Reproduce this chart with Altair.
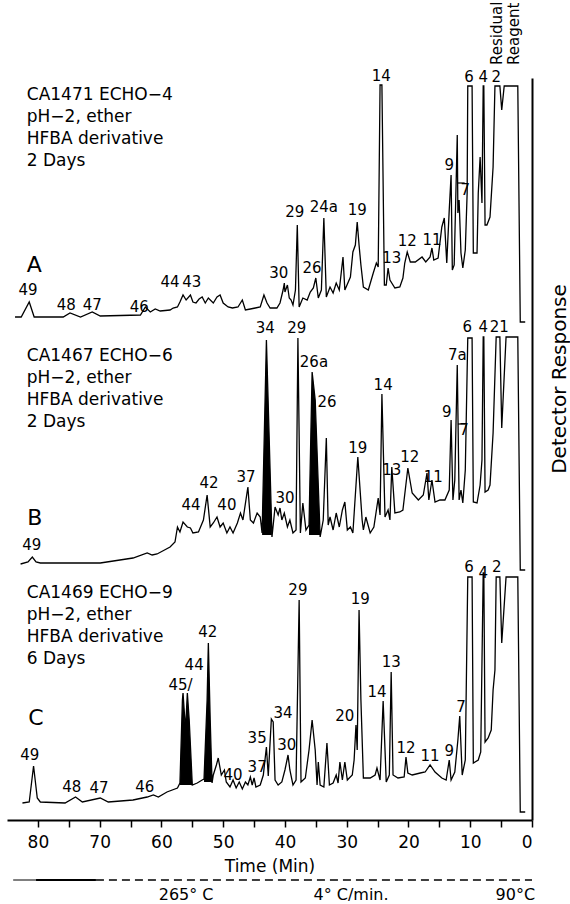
import altair as alt
import pandas as pd

FONT = "DejaVu Sans"

# ---------------- data (time in min, detector response in arbitrary units) ----------------
A_POINTS = [
    (83.7, 8), (82.7, 8), (81.4, 23), (80.6, 8), (80.1, 8), (75.9, 8), (74.8, 12), (73.1, 8),
    (71.2, 13), (69.9, 9), (63.4, 10), (62.6, 18), (61.8, 13), (61.0, 16), (60.2, 14), (58.6, 15),
    (58.1, 17), (57.4, 18), (57.0, 23), (56.5, 30), (56.0, 25), (55.3, 30), (54.9, 23), (54.4, 22),
    (53.9, 26), (53.4, 28), (52.9, 22), (52.4, 27), (51.6, 22), (51.0, 28), (50.5, 30), (50.0, 22),
    (49.2, 18), (48.5, 17), (47.6, 18), (46.9, 25), (46.4, 15), (45.6, 16), (44.8, 17), (44.0, 18),
    (43.4, 30), (42.9, 22), (42.4, 17), (41.3, 17), (40.8, 22), (40.3, 35), (40.1, 42), (40.0, 33),
    (39.6, 40), (39.3, 27), (39.0, 25), (38.7, 20), (38.3, 35), (38.0, 100), (37.7, 18), (37.1, 27),
    (36.4, 25), (35.9, 33), (35.4, 37), (35.0, 47), (34.6, 27), (34.1, 35), (33.7, 107), (33.3, 28),
    (32.7, 38), (32.2, 32), (31.7, 42), (31.2, 35), (30.6, 68), (30.3, 35), (29.4, 48), (29.0, 73),
    (28.6, 80), (28.3, 103), (28.0, 80), (27.7, 60), (27.3, 38), (26.5, 35), (25.7, 52), (25.2, 62),
    (24.9, 58), (24.6, 240), (24.3, 240), (23.9, 40), (23.6, 40), (23.3, 57), (23.0, 45), (22.2, 37),
    (21.4, 38), (20.9, 47), (20.6, 62), (20.2, 73), (19.7, 63), (18.9, 63), (17.8, 68), (17.2, 63),
    (16.5, 68), (16.2, 77), (15.9, 65), (15.2, 67), (14.6, 98), (14.2, 107), (13.8, 62), (13.4, 115),
    (13.1, 150), (12.9, 55), (12.6, 60), (12.3, 138), (12.1, 190), (12.0, 112), (11.8, 125), (11.5, 72),
    (11.2, 57), (10.8, 75), (10.5, 132), (10.4, 239), (9.7, 239), (9.5, 72), (8.9, 72), (8.7, 132),
    (8.4, 168), (8.1, 122), (7.9, 239), (7.8, 239), (7.6, 100), (7.3, 100), (6.8, 108), (6.3, 158),
    (6.0, 239), (5.2, 239), (4.9, 215), (4.5, 239), (2.3, 239), (1.9, 3), (1.1, 3),
]

B_POINTS = [
    (82.8, 6), (81.6, 8), (80.9, 13), (80.3, 8), (79.6, 7), (69.9, 7), (64.6, 12), (62.3, 17),
    (61.5, 15), (60.7, 16), (58.6, 23), (57.8, 28), (57.4, 43), (57.0, 38), (56.5, 48), (55.8, 43),
    (55.3, 42), (54.9, 37), (54.0, 38), (53.2, 50), (52.6, 75), (52.1, 43), (51.6, 47), (51.0, 53),
    (50.5, 43), (50.0, 47), (49.4, 37), (48.9, 43), (48.4, 37), (47.7, 47), (47.2, 57), (46.8, 50),
    (46.0, 83), (45.6, 50), (45.1, 47), (44.5, 57), (44.0, 53), (43.7, 37), (43.0, 230), (42.1, 33),
    (41.6, 63), (41.1, 55), (40.8, 62), (40.5, 50), (40.1, 57), (39.6, 43), (39.2, 50), (38.7, 37),
    (38.2, 40), (37.9, 232), (37.5, 37), (37.1, 67), (36.6, 40), (36.1, 45), (35.6, 198), (35.1, 170),
    (34.3, 33), (33.8, 50), (33.3, 132), (33.0, 45), (32.7, 53), (32.2, 40), (31.7, 57), (31.2, 43),
    (30.7, 60), (30.3, 68), (29.9, 40), (29.4, 43), (29.0, 37), (28.2, 113), (27.5, 50), (27.3, 40),
    (26.9, 53), (26.2, 37), (25.6, 43), (24.9, 72), (24.6, 55), (24.3, 176), (23.8, 53), (23.3, 60),
    (23.0, 50), (22.7, 103), (22.2, 57), (21.4, 58), (20.9, 60), (20.1, 102), (19.4, 77), (18.4, 70),
    (17.6, 75), (17.0, 97), (16.7, 70), (16.2, 90), (15.7, 68), (14.9, 70), (14.1, 70), (13.4, 80),
    (13.1, 150), (12.8, 70), (12.5, 90), (12.1, 205), (11.8, 70), (11.5, 80), (11.2, 67), (10.8, 100),
    (10.4, 232), (9.7, 232), (9.5, 68), (8.9, 67), (8.4, 85), (8.1, 110), (7.9, 233), (7.8, 233),
    (7.6, 78), (7.1, 80), (6.8, 85), (6.3, 137), (5.8, 233), (5.2, 233), (4.9, 142), (4.2, 233),
    (2.3, 233), (1.9, 0), (1.1, 0),
]

C_POINTS = [
    (82.5, 17), (81.4, 18), (80.7, 54), (80.1, 22), (79.6, 18), (75.6, 17), (73.9, 23), (72.8, 18),
    (69.9, 22), (68.6, 18), (64.6, 20), (62.3, 23), (61.3, 25), (60.5, 23), (59.1, 28), (57.4, 32),
    (57.0, 37), (56.6, 120), (56.5, 127), (56.1, 90), (55.8, 127), (55.5, 100), (55.0, 35), (54.2, 37),
    (53.4, 40), (53.1, 41), (52.6, 120), (52.4, 177), (52.1, 100), (51.8, 37), (51.6, 45), (51.1, 55),
    (50.8, 62), (50.3, 45), (49.8, 50), (49.5, 38), (48.9, 33), (48.4, 40), (47.9, 32), (47.4, 38),
    (46.9, 31), (46.4, 38), (46.0, 35), (45.6, 43), (45.3, 35), (45.0, 42), (44.7, 33), (44.0, 35),
    (43.5, 45), (43.0, 73), (42.7, 44), (42.2, 101), (41.9, 98), (41.6, 40), (41.1, 35), (40.5, 38),
    (40.0, 50), (39.5, 65), (39.2, 50), (38.7, 35), (38.2, 40), (37.7, 220), (37.4, 38), (36.7, 42),
    (36.1, 70), (35.6, 100), (35.1, 70), (34.8, 35), (34.6, 58), (34.3, 35), (33.7, 33), (33.2, 77),
    (32.8, 35), (32.2, 37), (31.7, 45), (31.4, 37), (31.1, 58), (30.7, 40), (30.3, 58), (29.9, 40),
    (29.1, 45), (28.8, 60), (28.5, 95), (28.3, 70), (28.0, 210), (27.7, 120), (27.3, 42), (26.2, 42),
    (25.4, 45), (25.1, 52), (24.6, 40), (24.1, 119), (23.6, 38), (23.1, 45), (22.8, 148), (22.5, 45),
    (21.7, 42), (20.7, 43), (20.4, 63), (20.1, 47), (19.4, 45), (18.1, 47), (17.3, 48), (16.5, 55),
    (15.7, 48), (14.6, 42), (13.9, 40), (13.4, 60), (13.1, 40), (12.5, 48), (12.0, 80), (11.7, 104),
    (11.3, 45), (10.8, 60), (10.4, 243), (9.7, 243), (9.5, 57), (8.7, 60), (8.3, 68), (7.9, 247),
    (7.8, 247), (7.6, 78), (7.1, 82), (6.6, 90), (6.3, 130), (6.0, 150), (5.8, 243), (5.2, 243),
    (4.9, 177), (4.2, 243), (2.3, 243), (1.9, 8), (1.1, 8),
]

# vertical stacking of the three chromatograms
TRACE_OFFSET = {"A": 495, "B": 250, "C": 0}

# blackened (integrated) peaks: trace, region id, base response, outline points
FILL_REGIONS = [
    ("B", "B34", 35, [(43.7, 37), (43.0, 230), (42.1, 33)]),
    ("B", "B26a", 35, [(36.1, 45), (35.6, 198), (35.1, 170), (34.3, 33)]),
    ("C", "C45", 35, [(57.0, 37), (56.6, 120), (56.5, 127), (56.1, 90), (55.8, 127), (55.5, 100), (55.0, 35)]),
    ("C", "C42", 38, [(53.1, 41), (52.6, 120), (52.4, 177), (52.1, 100), (51.8, 37)]),
]

LABELS_A = [("49", 81.6, 35), ("48", 75.4, 20), ("47", 71.2, 20), ("46", 63.6, 18), ("44", 58.6, 43),
            ("43", 55.1, 43), ("30", 41.0, 52), ("29", 38.4, 113), ("26", 35.6, 57), ("24a", 33.7, 118),
            ("19", 28.3, 115), ("14", 24.4, 249), ("13", 22.7, 67), ("12", 20.2, 84), ("11", 16.2, 85),
            ("9", 13.4, 160), ("7", 10.8, 135), ("6", 10.2, 248), ("4", 7.9, 248), ("2", 5.8, 248)]
LABELS_B = [("49", 81.0, 25), ("44", 55.2, 65), ("42", 52.3, 87), ("40", 49.4, 65), ("37", 46.3, 93),
            ("34", 43.2, 242), ("30", 40.0, 72), ("29", 38.1, 242), ("26a", 35.3, 208), ("26", 33.2, 168),
            ("19", 28.2, 122), ("14", 24.1, 185), ("13", 22.7, 100), ("12", 19.8, 113), ("11", 16.0, 93),
            ("9", 13.8, 158), ("7a", 12.1, 215), ("7", 11.0, 140), ("6", 10.5, 243), ("4", 7.9, 243),
            ("21", 5.3, 243)]
LABELS_C = [("49", 81.3, 65), ("48", 74.5, 33), ("47", 70.1, 32), ("46", 62.7, 33), ("45/", 56.9, 135),
            ("44", 54.7, 155), ("42", 52.5, 188), ("40", 48.4, 45), ("37", 44.5, 53), ("35", 44.5, 82),
            ("34", 40.3, 107), ("30", 39.7, 75), ("29", 37.9, 230), ("20", 30.3, 104), ("19", 27.8, 221),
            ("14", 25.1, 128), ("13", 22.8, 158), ("12", 20.4, 72), ("11", 16.5, 64), ("9", 13.4, 69),
            ("7", 11.5, 113), ("6", 10.2, 253), ("4", 7.9, 247), ("2", 5.7, 253)]

# leader bars over the "7" labels: trace, from, to, response
LEADERS = [("A", 12.1, 10.9, 142), ("B", 12.0, 10.8, 146)]

INFO = {
    "A": ["CA1471 ECHO−4", "pH−2, ether", "HFBA derivative", "2 Days"],
    "B": ["CA1467 ECHO−6", "pH−2, ether", "HFBA derivative", "2 Days"],
    "C": ["CA1469 ECHO−9", "pH−2, ether", "HFBA derivative", "6 Days"],
}
INFO_TIME = 81.8
INFO_TOP = {"A": 230, "B": 214, "C": 227}
INFO_STEP = 22
PANEL_LETTER = {"A": (80.6, 60), "B": (80.5, 52), "C": (80.3, 102)}

TEMP_THIN_T = [84.0, 80.3]
TEMP_THICK_T = [80.3, 70.6]
TEMP_RAMP_T = [70.6, 0.0]
TEMP_LINE_V = -60
TEMP_LABELS = [("265° C", 56.0), ("4° C/min.", 29.3), ("90°C", 2.7)]
TEMP_LABEL_V = -75

RESIDUAL = [("Residual", 5.7), ("Reagent", 2.9)]
RESIDUAL_V = 755
DETECTOR_POS = (-4.5, 441)

X_TICKS = list(range(0, 85, 5))

# ---------------- tables ----------------
traces = {"A": A_POINTS, "B": B_POINTS, "C": C_POINTS}
rows = []
for name, pts in traces.items():
    for i, (t, r) in enumerate(pts):
        rows.append({"trace": name, "i": i, "t": t, "v": r + TRACE_OFFSET[name]})
trace_df = pd.DataFrame(rows)

frows = []
for tr, reg, base, pts in FILL_REGIONS:
    for i, (t, r) in enumerate(pts):
        frows.append({"region": reg, "i": i, "t": t, "v": r + TRACE_OFFSET[tr],
                      "base": base + TRACE_OFFSET[tr]})
fill_df = pd.DataFrame(frows)

lrows = []
for tr, labs in [("A", LABELS_A), ("B", LABELS_B), ("C", LABELS_C)]:
    for txt, t, r in labs:
        lrows.append({"text": txt, "t": t, "v": r + TRACE_OFFSET[tr]})
label_df = pd.DataFrame(lrows)

lead_df = pd.DataFrame([{"t": a, "t2": b, "v": r + TRACE_OFFSET[tr]} for tr, a, b, r in LEADERS])

irows = []
for tr, lines in INFO.items():
    for k, line in enumerate(lines):
        irows.append({"text": line, "t": INFO_TIME, "v": INFO_TOP[tr] - k * INFO_STEP + TRACE_OFFSET[tr]})
info_df = pd.DataFrame(irows)

letter_df = pd.DataFrame([{"text": k, "t": t, "v": r + TRACE_OFFSET[k]} for k, (t, r) in PANEL_LETTER.items()])

temp_df = pd.DataFrame(
    [{"seg": "thin", "t": t, "v": TEMP_LINE_V} for t in TEMP_THIN_T]
    + [{"seg": "thick", "t": t, "v": TEMP_LINE_V} for t in TEMP_THICK_T]
    + [{"seg": "ramp", "t": t, "v": TEMP_LINE_V} for t in TEMP_RAMP_T]
)
temp_lab_df = pd.DataFrame([{"text": s, "t": t, "v": TEMP_LABEL_V} for s, t in TEMP_LABELS])
resid_df = pd.DataFrame([{"text": s, "t": t, "v": RESIDUAL_V} for s, t in RESIDUAL])
det_df = pd.DataFrame([{"text": "Detector Response", "t": DETECTOR_POS[0], "v": DETECTOR_POS[1]}])

# ---------------- encodings ----------------
xscale = alt.Scale(domain=[0, 85], reverse=True, nice=False, zero=False)
yscale = alt.Scale(domain=[0, 742], nice=False, zero=False)
xaxis = alt.Axis(values=X_TICKS, labelExpr="datum.value % 10 == 0 ? datum.label : ''",
                 grid=False, domainColor="black", domainWidth=2, tickColor="black",
                 tickWidth=1.5, tickSize=7, labelFont=FONT, labelFontSize=17, labelColor="black",
                 labelPadding=7, title="Time (Min)", titleFont=FONT, titleFontSize=17,
                 titleFontWeight="normal", titleColor="black", titlePadding=8)
yaxis = alt.Axis(orient="right", labels=False, ticks=False, grid=False, title=None,
                 domainColor="black", domainWidth=2)

X = alt.X("t:Q", scale=xscale, axis=xaxis)
Y = alt.Y("v:Q", scale=yscale, axis=yaxis)

lines = alt.Chart(trace_df).mark_line(color="black", strokeWidth=1.3).encode(
    x=X, y=Y, detail="trace:N", order="i:Q")
fills = alt.Chart(fill_df).mark_area(color="black", fill="black", opacity=1, interpolate="linear").encode(
    x=alt.X("t:Q", scale=xscale, axis=xaxis),
    y=alt.Y("v:Q", scale=yscale, axis=yaxis, stack=None),
    y2=alt.Y2("base:Q"),
    detail="region:N")
labels = alt.Chart(label_df).mark_text(font=FONT, fontSize=15, color="black").encode(
    x=X, y=Y, text="text:N")
leaders = alt.Chart(lead_df).mark_rule(color="black", strokeWidth=1.2).encode(
    x=X, x2="t2:Q", y=Y)
info = alt.Chart(info_df).mark_text(font=FONT, fontSize=17, color="black", align="left").encode(
    x=X, y=Y, text="text:N")
letters = alt.Chart(letter_df).mark_text(font=FONT, fontSize=22, color="black").encode(
    x=X, y=Y, text="text:N")
temp_thin = alt.Chart(temp_df[temp_df.seg == "thin"]).mark_line(color="black", strokeWidth=1).encode(x=X, y=Y)
temp_thick = alt.Chart(temp_df[temp_df.seg == "thick"]).mark_line(color="black", strokeWidth=2).encode(x=X, y=Y)
temp_ramp = alt.Chart(temp_df[temp_df.seg == "ramp"]).mark_line(
    color="black", strokeWidth=1.5, strokeDash=[8, 5]).encode(x=X, y=Y)
temp_labels = alt.Chart(temp_lab_df).mark_text(font=FONT, fontSize=16, color="black").encode(
    x=X, y=Y, text="text:N")
resid = alt.Chart(resid_df).mark_text(font=FONT, fontSize=15, color="black", angle=270,
                                      align="left", baseline="middle").encode(x=X, y=Y, text="text:N")
det = alt.Chart(det_df).mark_text(font=FONT, fontSize=20, color="black", angle=270,
                                  align="center", baseline="middle").encode(x=X, y=Y, text="text:N")

chart = alt.layer(
    lines, fills, leaders, labels, info, letters,
    temp_thin, temp_thick, temp_ramp, temp_labels, resid, det,
).properties(
    width=525, height=742, autosize="none",
    padding={"left": 7, "top": 78, "right": 38, "bottom": 84},
    background="white",
).configure_view(strokeWidth=0)

chart.save("out.html", embed_options={"renderer": "svg", "actions": False})
